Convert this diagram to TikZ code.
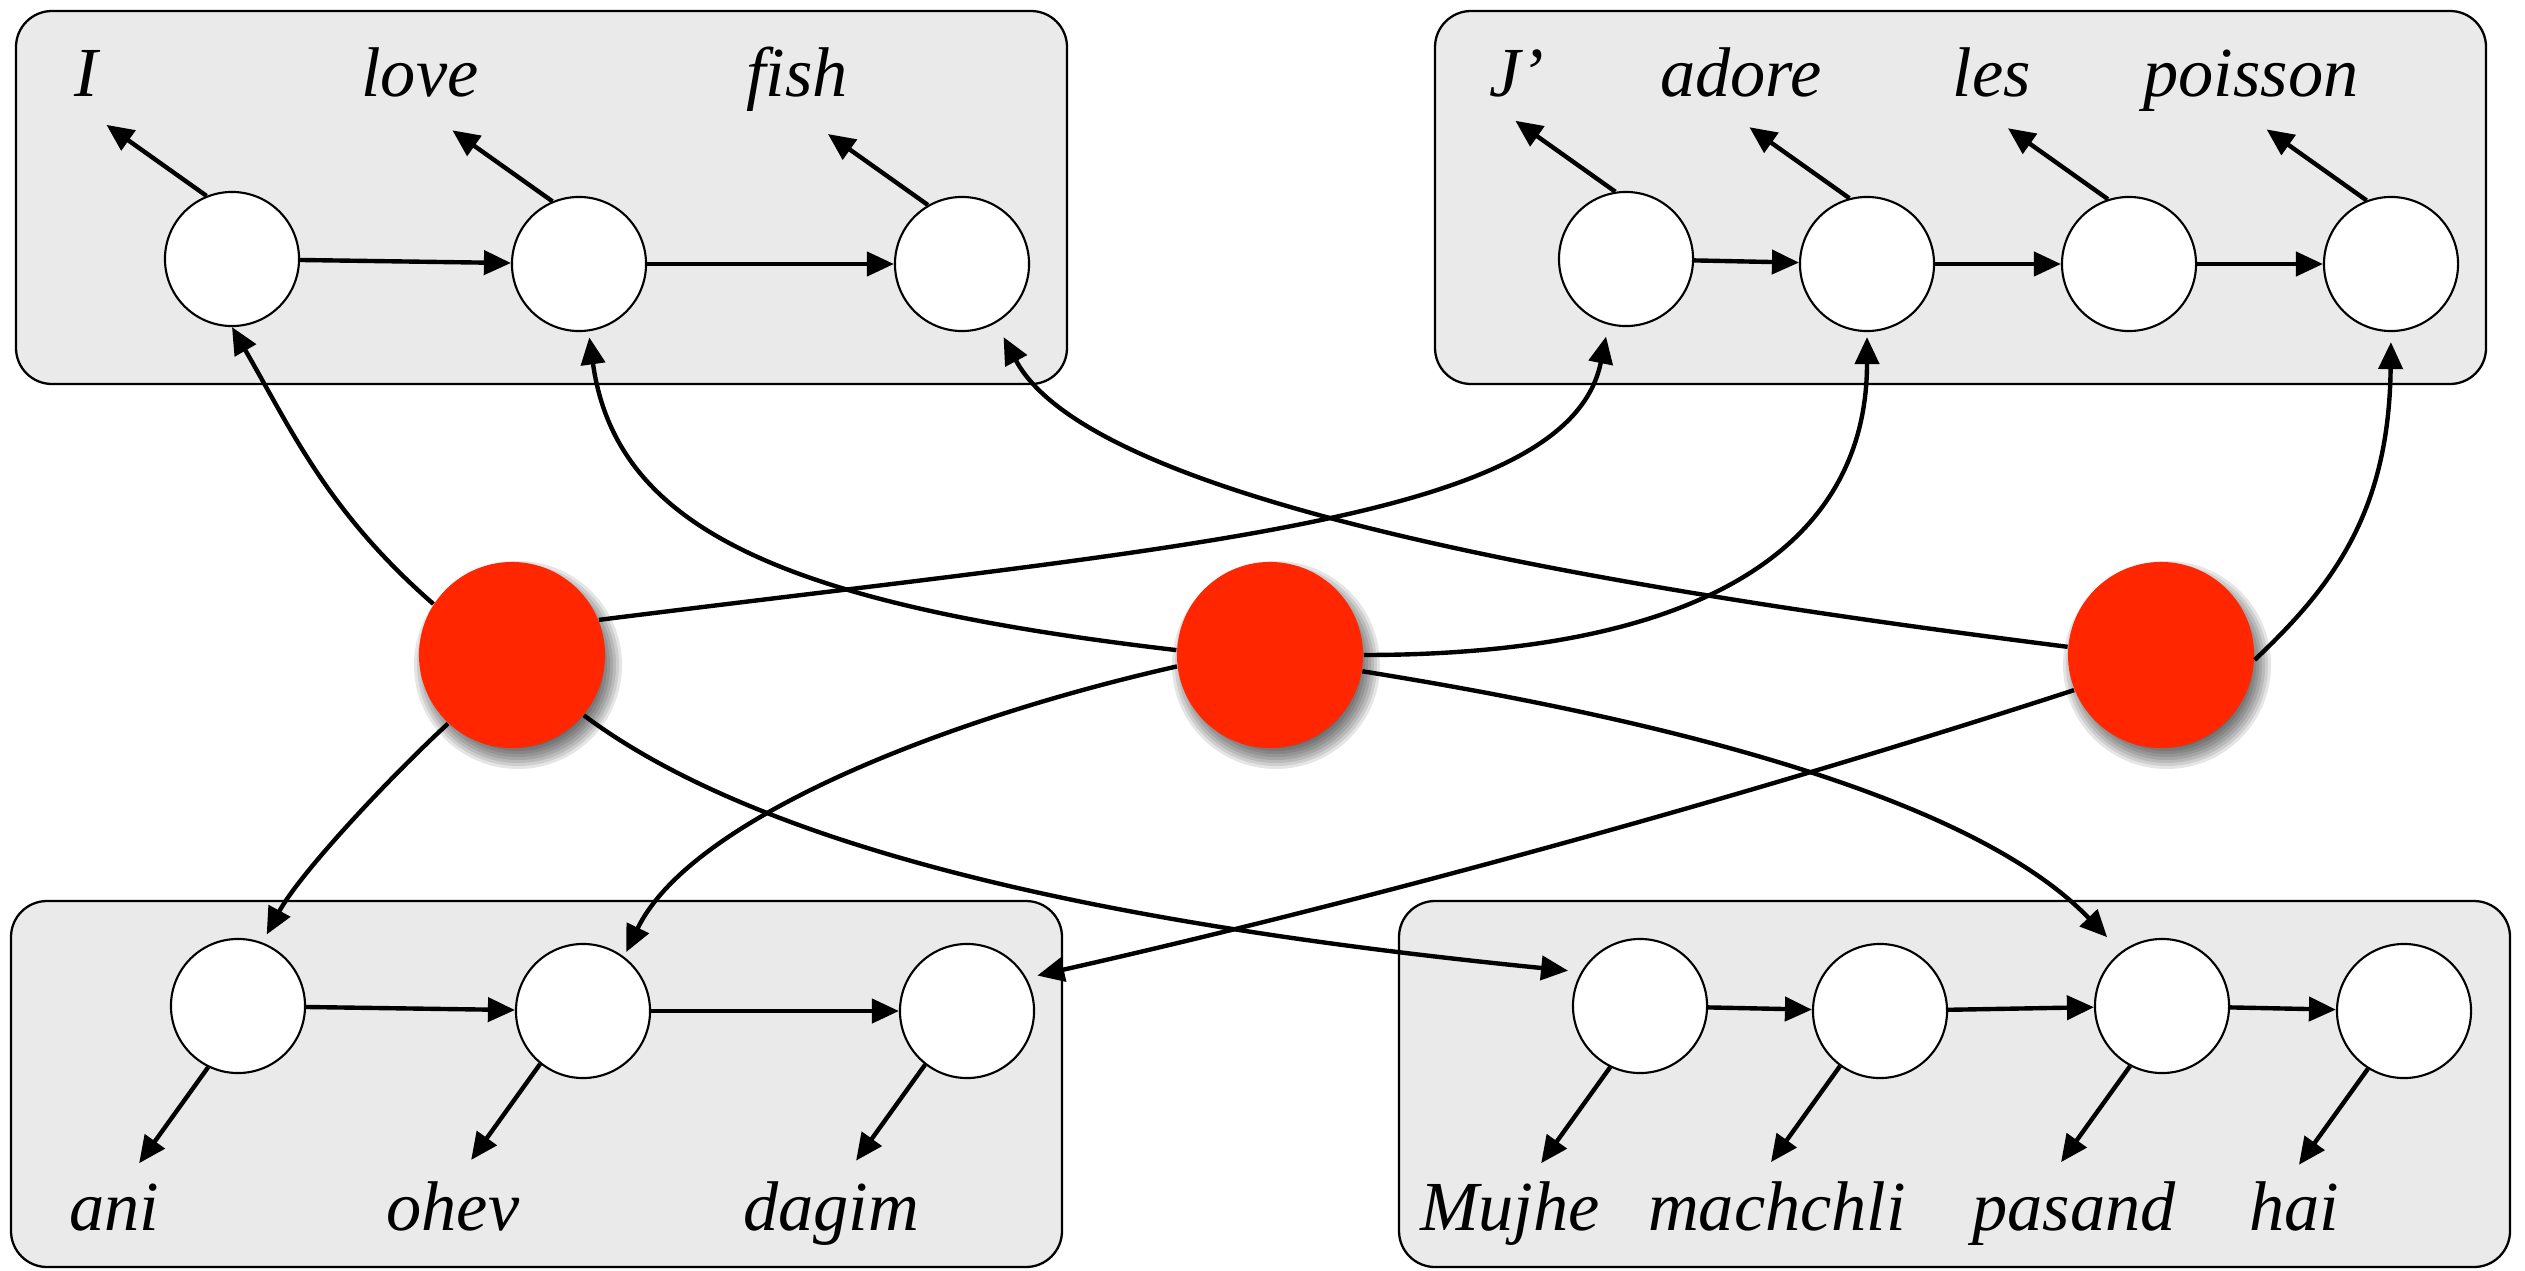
\documentclass[tikz,border=0pt]{standalone}
\usepackage{fontspec}
\setmainfont{Liberation Serif}
\usetikzlibrary{arrows.meta}
\definecolor{boxgray}{RGB}{234,234,234}
\definecolor{nodered}{RGB}{255,38,0}
\begin{document}
\begin{tikzpicture}[x=0.01cm,y=-0.01cm,
  box/.style={draw=black,line width=0.65pt,fill=boxgray,rounded corners=0.36cm},
  wnode/.style={circle,draw=black,line width=0.6pt,fill=white,minimum size=1.34cm,inner sep=0pt},
  rnode/.style={circle,fill=nodered,minimum size=1.86cm,inner sep=0pt},
  word/.style={font=\fontsize{20}{24}\selectfont\itshape,anchor=base,inner sep=0pt},
  arr/.style={line width=1.25pt,-{Triangle[length=0.27cm,width=0.24cm]}},
]
\useasboundingbox (0,0) rectangle (2525,1270);
% boxes
\draw[box] (16,11) rectangle (1067,384);
\draw[box] (1435,11) rectangle (2486,384);
\draw[box] (11,901) rectangle (1062,1267);
\draw[box] (1399,901) rectangle (2510,1267);
% shadows of red nodes
\foreach \cx in {512,1270,2161}{
  \foreach \r in {80,83,86,89,92,95,98,101,104}{
    \fill[black,opacity=0.1] (\cx+6,665) circle[radius=\r];
  }
}
% red nodes
\node[rnode] (R1) at (512,655) {};
\node[rnode] (R2) at (1270,655) {};
\node[rnode] (R3) at (2161,655) {};
% white nodes
\node[wnode] (TL1) at (232,259) {};
\node[wnode] (TL2) at (579,264) {};
\node[wnode] (TL3) at (962,264) {};
\node[wnode] (TR1) at (1626,259) {};
\node[wnode] (TR2) at (1867,264) {};
\node[wnode] (TR3) at (2129,264) {};
\node[wnode] (TR4) at (2391,264) {};
\node[wnode] (BL1) at (238,1006) {};
\node[wnode] (BL2) at (583,1011) {};
\node[wnode] (BL3) at (967,1011) {};
\node[wnode] (BR1) at (1640,1006) {};
\node[wnode] (BR2) at (1880,1011) {};
\node[wnode] (BR3) at (2162,1006) {};
\node[wnode] (BR4) at (2404,1011) {};
% words
\node[word] (wI) at (86,97) {I};
\node[word] (wlove) at (420,97) {love};
\node[word] (wfish) at (797,97) {fish};
\node[word] (wJ) at (1517,97) {J’};
\node[word] (wadore) at (1741,97) {adore};
\node[word] (wles) at (1992,97) {les};
\node[word] (wpoisson) at (2251,97) {poisson};
\node[word] (wani) at (114,1230) {ani};
\node[word] (wohev) at (453,1230) {ohev};
\node[word] (wdagim) at (831,1230) {dagim};
\node[word] (wMujhe) at (1510,1230) {Mujhe};
\node[word] (wmachchli) at (1777,1230) {machchli};
\node[word] (wpasand) at (2074,1230) {pasand};
\node[word] (whai) at (2294,1230) {hai};
% chains
\draw[arr] (TL1) -- (TL2);
\draw[arr] (TL2) -- (TL3);
\draw[arr] (TR1) -- (TR2);
\draw[arr] (TR2) -- (TR3);
\draw[arr] (TR3) -- (TR4);
\draw[arr] (BL1) -- (BL2);
\draw[arr] (BL2) -- (BL3);
\draw[arr] (BR1) -- (BR2);
\draw[arr] (BR2) -- (BR3);
\draw[arr] (BR3) -- (BR4);
% outputs top
\draw[arr] (TL1.112) -- ++(-100,-71);
\draw[arr] (TL2.113) -- ++(-100,-71);
\draw[arr] (TL3.120) -- ++(-100,-71);
\draw[arr] (TR1.99) -- ++(-100,-71);
\draw[arr] (TR2.105) -- ++(-100,-71);
\draw[arr] (TR3.108) -- ++(-100,-71);
\draw[arr] (TR4.111) -- ++(-100,-71);
% outputs bottom
\draw[arr] (BL1.244) -- ++(-69,96);
\draw[arr] (BL2.231) -- ++(-69,96);
\draw[arr] (BL3.232) -- ++(-69,96);
\draw[arr] (BR1.244) -- ++(-69,96);
\draw[arr] (BR2.234) -- ++(-69,96);
\draw[arr] (BR3.242) -- ++(-69,96);
\draw[arr] (BR4.238) -- ++(-69,96);
% curved connectors
\draw[arr] (R1.147) .. controls (328,512) and (292,431) .. (TL1.south);
\draw[arr,shorten >=0.12cm] (R1.22) .. controls (1194,545) and (1569,520) .. (TR1.255);
\draw[arr,shorten >=0.09cm] (R1.227) .. controls (390,777) and (300,873) .. (BL1.69);
\draw[arr,shorten >=0.13cm] (R1.-40) .. controls (785,866) and (1182,932) .. (BR1.150);
\draw[arr,shorten >=0.06cm] (R2.177) .. controls (781,604) and (616,528) .. (TL2.-82);
\draw[arr,shorten >=0.05cm] (R2.0) .. controls (1694,655) and (1867,551) .. (TR2.south);
\draw[arr,shorten >=0.05cm] (R2.187) .. controls (940,720) and (690,820) .. (BL2.53);
\draw[arr,shorten >=0.2cm] (R2.-10) .. controls (1710,727) and (1982,807) .. (BR3.127);
\draw[arr,shorten >=0.16cm] (R3.175) .. controls (1572,584) and (1089,498) .. (TL3.-60);
\draw[arr,shorten >=0.1cm] (R3.-3) .. controls (2334,585) and (2389,511) .. (TR4.south);
\draw[arr,shorten >=0.11cm] (R3.202) .. controls (1742,798) and (1367,901) .. (BL3.29);
\end{tikzpicture}
\end{document}
